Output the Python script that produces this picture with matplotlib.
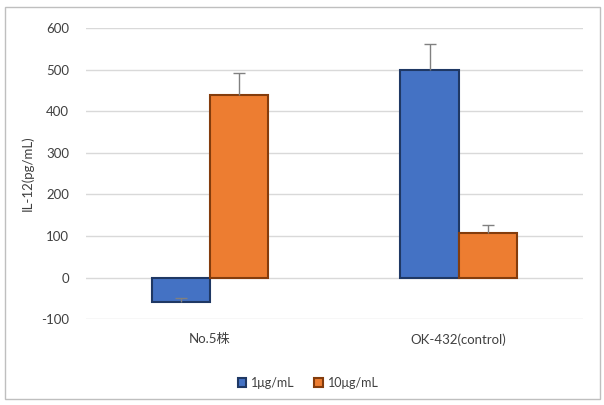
import numpy as np
import matplotlib.pyplot as plt
from matplotlib.patches import Rectangle

plt.rcParams['font.family'] = ['Lato', 'Noto Sans CJK JP', 'DejaVu Sans']
plt.rcParams['axes.unicode_minus'] = False

categories = ['No.5株', 'OK-432(control)']
series = ['1μg/mL', '10μg/mL']
vals_1 = [-58, 499]
vals_10 = [438, 106]
err_1 = [8, 62]
err_10 = [53, 21]

fig = plt.figure(figsize=(6.04, 4.05), dpi=100)
fig.patches.append(Rectangle((0.008, 0.015), 0.985, 0.968, transform=fig.transFigure,
                             fill=False, edgecolor='#bfbfbf', linewidth=1))
ax = fig.add_axes([0.142, 0.212, 0.823, 0.719])

x = np.arange(len(categories))
w = 0.234
b1 = ax.bar(x - w / 2, vals_1, w, color='#4472C4', edgecolor='#1F3864', linewidth=1.5,
            label=series[0], zorder=3)
b2 = ax.bar(x + w / 2, vals_10, w, color='#ED7D31', edgecolor='#843C0C', linewidth=1.5,
            label=series[1], zorder=3)

# error bars, plus direction only
for xs, vals, errs in [(x - w / 2, vals_1, err_1), (x + w / 2, vals_10, err_10)]:
    eb = ax.errorbar(xs, vals, yerr=[np.zeros(2), errs], fmt='none', ecolor='#808080',
                     elinewidth=1, capsize=4, zorder=4)
    eb[1][0].set_visible(False)

ax.set_xlim(-0.5, 1.5)
ax.set_ylim(-100, 600)
ax.set_yticks(range(-100, 601, 100))
ax.set_xticks(x)
ax.set_xticklabels(categories, fontsize=9.5, color='#404040')
ax.tick_params(axis='y', labelsize=9.5, labelcolor='#404040', length=0, pad=12)
ax.tick_params(axis='x', length=0, pad=10)
ax.grid(axis='y', color='#d9d9d9', linewidth=1, zorder=0)
for s in ax.spines.values():
    s.set_visible(False)
ax.set_ylabel('IL-12(pg/mL)', fontsize=9.5, color='#404040', labelpad=5)

fig.legend(handles=[b1, b2], labels=series, loc='center', bbox_to_anchor=(0.51, 0.055),
           ncol=2, frameon=False, fontsize=9, handlelength=0.7, handleheight=0.7,
           columnspacing=1.5, handletextpad=0.4, labelcolor='#404040')

fig.savefig('out.png', dpi=100)
